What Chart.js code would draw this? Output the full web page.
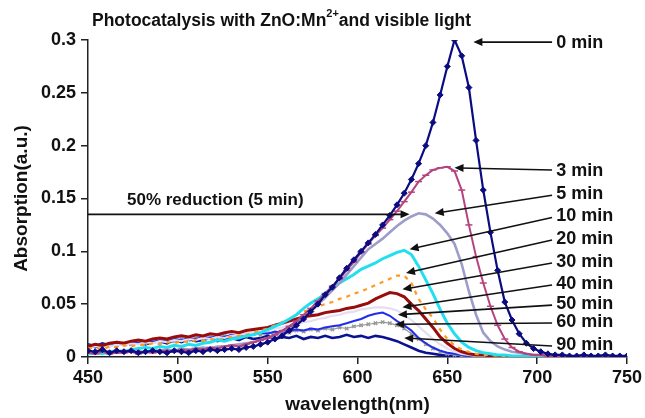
<!DOCTYPE html>
<html>
<head>
<meta charset="utf-8">
<script src="https://cdn.jsdelivr.net/npm/chart.js@4.4.1/dist/chart.umd.min.js"></script>
<style>
  html, body { margin: 0; padding: 0; background: #fff; }
  canvas { display: block; }
</style>
</head>
<body>
<canvas id="c" width="645" height="418"></canvas>
<script>
// Wavelength grid (nm)
const wavelengths = [
  450,454,458,462,466,470,474,478,482,486,
  490,494,498,502,506,510,514,518,522,526,
  530,534,538,542,546,550,554,558,562,566,
  570,574,578,582,586,590,594,598,602,606,
  610,614,618,622,626,630,634,638,642,646,
  650,654,658,662,666,670,674,678,682,686,
  690,694,698,702,706,710,714,718,722,726,
  730,734,738,742,746,750
];

// Absorption spectra after each irradiation time (a.u.)
const abs0min = [
  .006,.005,.007,.004,.006,.005,.006,.004,.005,.006,
  .005,.004,.006,.005,.004,.006,.005,.007,.006,.007,
  .008,.007,.009,.010,.012,.014,.017,.020,.025,.030,
  .036,.043,.050,.059,.066,.075,.084,.092,.100,.108,
  .116,.125,.134,.144,.155,.168,.183,.200,.222,.248,
  .275,.300,.285,.255,.205,.158,.118,.082,.052,.035,
  .022,.013,.008,.005,.003,.002,.002,.001,.001,.002,
  .001,.001,.002,.001,.001,.001
];
const abs3min = [
  .004,.003,.005,.003,.004,.004,.005,.003,.005,.004,
  .005,.006,.005,.007,.006,.008,.007,.009,.008,.010,
  .011,.010,.012,.014,.016,.018,.021,.025,.029,.034,
  .040,.046,.053,.060,.067,.074,.082,.090,.099,.107,
  .115,.122,.130,.138,.147,.156,.166,.172,.177,.179,
  .180,.176,.158,.125,.095,.070,.048,.030,.017,.009,
  .005,.003,.002,.002,.001,.001,.001,.000,.001,.000,
  .001,.000,.000,.001,.000,.000
];
const abs5min = [
  .005,.004,.006,.004,.005,.006,.005,.006,.004,.006,
  .006,.007,.006,.008,.007,.008,.009,.008,.010,.010,
  .011,.012,.013,.014,.016,.018,.020,.024,.028,.033,
  .038,.044,.050,.056,.063,.070,.078,.086,.094,.102,
  .107,.112,.118,.124,.129,.133,.136,.135,.131,.125,
  .117,.107,.088,.062,.040,.023,.015,.010,.007,.005,
  .004,.003,.002,.002,.001,.001,.001,.000,.000,.000,
  .000,.000,.000,.000,.000,.000
];
const abs10min = [
  .003,.004,.003,.005,.006,.005,.007,.008,.009,.008,
  .010,.009,.011,.010,.012,.011,.013,.014,.016,.015,
  .017,.018,.020,.021,.023,.026,.029,.032,.036,.040,
  .046,.051,.055,.060,.066,.070,.074,.078,.083,.086,
  .089,.093,.096,.099,.101,.097,.086,.073,.060,.045,
  .032,.022,.014,.009,.006,.004,.003,.002,.002,.001,
  .001,.001,.001,.000,.000,.000,.000,.000,.000,.000,
  .000,.000,.000,.000,.000,.000
];
const abs20min = [
  .008,.009,.007,.010,.009,.011,.010,.012,.011,.013,
  .012,.014,.013,.015,.014,.016,.015,.017,.016,.018,
  .019,.020,.021,.023,.025,.027,.030,.033,.036,.040,
  .043,.045,.048,.050,.052,.055,.057,.060,.062,.065,
  .068,.071,.074,.077,.077,.070,.055,.045,.037,.026,
  .017,.011,.007,.005,.003,.002,.002,.001,.001,.001,
  .000,.000,.000,.000,.000,.000,.000,.000,.000,.000,
  .000,.000,.000,.000,.000,.000
];
const abs30min = [
  .010,.012,.011,.013,.014,.013,.015,.016,.015,.017,
  .018,.017,.019,.020,.019,.021,.020,.022,.021,.023,
  .024,.023,.025,.026,.027,.028,.030,.032,.034,.036,
  .038,.039,.040,.042,.043,.044,.046,.047,.049,.051,
  .055,.058,.061,.060,.057,.050,.044,.036,.028,.019,
  .013,.008,.005,.003,.002,.002,.001,.001,.000,.000,
  .000,.000,.000,.000,.000,.000,.000,.000,.000,.000,
  .000,.000,.000,.000,.000,.000
];
const abs40min = [
  .009,.010,.011,.010,.012,.011,.013,.012,.014,.013,
  .015,.014,.016,.015,.017,.016,.018,.017,.019,.018,
  .020,.021,.022,.023,.024,.025,.027,.028,.030,.031,
  .033,.034,.036,.037,.039,.040,.042,.043,.045,.046,
  .047,.047,.046,.044,.040,.035,.029,.023,.017,.012,
  .008,.005,.003,.002,.001,.001,.001,.000,.000,.000,
  .000,.000,.000,.000,.000,.000,.000,.000,.000,.000,
  .000,.000,.000,.000,.000,.000
];
const abs50min = [
  .011,.009,.012,.010,.013,.012,.014,.013,.015,.014,
  .016,.015,.017,.016,.018,.017,.019,.018,.020,.019,
  .021,.020,.022,.021,.023,.022,.024,.023,.025,.026,
  .025,.027,.026,.028,.029,.030,.032,.034,.036,.039,
  .041,.042,.039,.034,.030,.025,.018,.013,.009,.006,
  .004,.003,.002,.001,.001,.000,.000,.000,.000,.000,
  .000,.000,.000,.000,.000,.000,.000,.000,.000,.000,
  .000,.000,.000,.000,.000,.000
];
const abs60min = [
  .010,.011,.009,.012,.011,.013,.012,.014,.013,.015,
  .014,.016,.015,.017,.016,.018,.017,.019,.018,.020,
  .019,.021,.020,.022,.021,.023,.022,.024,.023,.025,
  .024,.026,.025,.027,.026,.028,.027,.029,.030,.031,
  .032,.033,.032,.030,.027,.022,.017,.012,.008,.005,
  .003,.002,.001,.001,.000,.000,.000,.000,.000,.000,
  .000,.000,.000,.000,.000,.000,.000,.000,.000,.000,
  .000,.000,.000,.000,.000,.000
];
const abs90min = [
  .012,.010,.013,.011,.014,.012,.013,.015,.012,.014,
  .015,.013,.016,.014,.017,.015,.016,.018,.015,.017,
  .018,.016,.019,.017,.018,.020,.017,.019,.018,.020,
  .017,.019,.018,.020,.018,.019,.021,.019,.020,.018,
  .020,.019,.017,.015,.012,.009,.006,.004,.003,.002,
  .001,.001,.001,.000,.000,.000,.000,.000,.000,.000,
  .000,.000,.000,.000,.000,.000,.000,.000,.000,.000,
  .000,.000,.000,.000,.000,.000
];

// Axis ticks
const xTickStep = 50;
const yTickStep = 0.05;

const FONT = "'Liberation Sans', Arial, Helvetica, sans-serif";

// Line styling for each irradiation time
const series = [
  { label: '0 min',  values: abs0min,  color: '#0b0b82', width: 2.2, point: 'rectRot', radius: 3 },
  { label: '3 min',  values: abs3min,  color: '#b5437f', width: 2, point: 'line', radius: 3.5 },
  { label: '5 min',  values: abs5min,  color: '#9d9dc9', width: 2.6 },
  { label: '10 min', values: abs10min, color: '#22dff0', width: 3 },
  { label: '20 min', values: abs20min, color: '#ff9a1a', width: 2.2, dash: [4, 5] },
  { label: '30 min', values: abs30min, color: '#980c0c', width: 3 },
  { label: '40 min', values: abs40min, color: '#e4def2', width: 2.2 },
  { label: '50 min', values: abs50min, color: '#1f2cf0', width: 2 },
  { label: '60 min', values: abs60min, color: '#9a9a9a', width: 1.2, point: 'crossRot', radius: 2.4 },
  { label: '90 min', values: abs90min, color: '#0b1290', width: 2.6 }
];

// Callout arrows: label height and arrow tip, in data units
const callouts = [
  { text: '0 min',  labelY: 0.298,  tipX: 664.5, tipY: 0.298 },
  { text: '3 min',  labelY: 0.177,  tipX: 654,   tipY: 0.179 },
  { text: '5 min',  labelY: 0.155,  tipX: 643,   tipY: 0.136 },
  { text: '10 min', labelY: 0.134,  tipX: 629,   tipY: 0.102 },
  { text: '20 min', labelY: 0.1126, tipX: 627,   tipY: 0.0795 },
  { text: '30 min', labelY: 0.0908, tipX: 625,   tipY: 0.064 },
  { text: '40 min', labelY: 0.070,  tipX: 625,   tipY: 0.047 },
  { text: '50 min', labelY: 0.051,  tipX: 622.5, tipY: 0.040 },
  { text: '60 min', labelY: 0.034,  tipX: 621,   tipY: 0.031 },
  { text: '90 min', labelY: 0.0123, tipX: 626,   tipY: 0.018 }
];
const calloutStartX = 708.3;
const calloutTextX = 710.6;
const halfLevel = { y: 0.135, tipX: 629, textX: 471.7, textY: 0.1486, text: '50% reduction (5 min)' };

function arrow(ctx, x1, y1, x2, y2) {
  const dx = x2 - x1, dy = y2 - y1;
  const len = Math.hypot(dx, dy);
  const ux = dx / len, uy = dy / len;
  const L = 9, W = 4;
  ctx.beginPath();
  ctx.moveTo(x1, y1);
  ctx.lineTo(x2 - ux * L * 0.6, y2 - uy * L * 0.6);
  ctx.stroke();
  ctx.beginPath();
  ctx.moveTo(x2, y2);
  ctx.lineTo(x2 - ux * L - uy * W, y2 - uy * L + ux * W);
  ctx.lineTo(x2 - ux * L + uy * W, y2 - uy * L - ux * W);
  ctx.closePath();
  ctx.fill();
}

const decorations = {
  id: 'decorations',
  afterDraw(chart) {
    const { ctx, chartArea, scales } = chart;
    const xs = scales.x, ys = scales.y;
    ctx.save();
    ctx.fillStyle = '#111';
    ctx.strokeStyle = '#111';
    ctx.lineWidth = 1.6;

    // Title with superscript charge
    ctx.textBaseline = 'alphabetic';
    ctx.textAlign = 'left';
    let tx = chartArea.left + 4;
    const ty = 26;
    ctx.font = 'bold 17.5px ' + FONT;
    const t1 = 'Photocatalysis with ZnO:Mn';
    ctx.fillText(t1, tx, ty);
    tx += ctx.measureText(t1).width;
    ctx.font = 'bold 11px ' + FONT;
    ctx.fillText('2+', tx, ty - 9);
    tx += ctx.measureText('2+').width;
    ctx.font = 'bold 17.5px ' + FONT;
    ctx.fillText('and visible light', tx, ty);

    // Axis titles
    ctx.font = 'bold 19px ' + FONT;
    ctx.textAlign = 'center';
    ctx.textBaseline = 'middle';
    ctx.fillText('wavelength(nm)', (chartArea.left + chartArea.right) / 2, 405);
    ctx.save();
    ctx.translate(22, (chartArea.top + chartArea.bottom) / 2);
    ctx.rotate(-Math.PI / 2);
    ctx.fillText('Absorption(a.u.)', 0, 0);
    ctx.restore();

    // Time labels with arrows
    ctx.font = 'bold 18px ' + FONT;
    ctx.textAlign = 'left';
    ctx.textBaseline = 'middle';
    callouts.forEach((c, i) => {
      const ly = ys.getPixelForValue(c.labelY);
      ctx.fillText(c.text, xs.getPixelForValue(calloutTextX), ly + 1);
      const sy = i < 2 ? ly : ly + 2;
      arrow(ctx, xs.getPixelForValue(calloutStartX), sy,
            xs.getPixelForValue(c.tipX), ys.getPixelForValue(c.tipY));
    });

    // Half-level marker
    const hy = ys.getPixelForValue(halfLevel.y);
    arrow(ctx, chartArea.left, hy, xs.getPixelForValue(halfLevel.tipX), hy);
    ctx.font = 'bold 17px ' + FONT;
    ctx.fillText(halfLevel.text, xs.getPixelForValue(halfLevel.textX), ys.getPixelForValue(halfLevel.textY));

    ctx.restore();
  }
};

const tickFont = { family: FONT, size: 18, weight: 'bold' };

new Chart(document.getElementById('c'), {
  type: 'line',
  data: {
    datasets: series.map(s => ({
      label: s.label,
      data: wavelengths.map((w, i) => ({ x: w, y: s.values[i] })),
      borderColor: s.color,
      backgroundColor: s.color,
      borderWidth: s.width,
      borderDash: s.dash || [],
      pointStyle: s.point || 'circle',
      pointRadius: s.point ? s.radius : 0,
      pointBorderColor: s.color,
      pointBackgroundColor: s.color,
      pointBorderWidth: s.point === 'rectRot' ? 1 : 1.5,
      tension: 0,
      fill: false
    }))
  },
  options: {
    responsive: false,
    animation: false,
    events: [],
    layout: { padding: { top: 40, right: 17, left: 0, bottom: 0 } },
    plugins: { legend: { display: false }, tooltip: { enabled: false }, title: { display: false } },
    scales: {
      x: {
        type: 'linear',
        min: 450, max: 750,
        ticks: { stepSize: xTickStep, font: tickFont, color: '#111', padding: 3, maxRotation: 0 },
        grid: { drawOnChartArea: false, drawTicks: true, tickLength: 7, color: '#222', lineWidth: 1.5 },
        border: { display: true, color: '#222', width: 1.5 },
        afterFit: s => { s.height = 61; }
      },
      y: {
        min: 0, max: 0.3,
        ticks: {
          stepSize: yTickStep, font: tickFont, color: '#111', padding: 5,
          callback: v => String(Math.round(v * 100) / 100)
        },
        grid: { drawOnChartArea: false, drawTicks: true, tickLength: 7, color: '#222', lineWidth: 1.5 },
        border: { display: true, color: '#222', width: 1.5 },
        afterFit: s => { s.width = 88; }
      }
    }
  },
  plugins: [decorations]
});
</script>
</body>
</html>
